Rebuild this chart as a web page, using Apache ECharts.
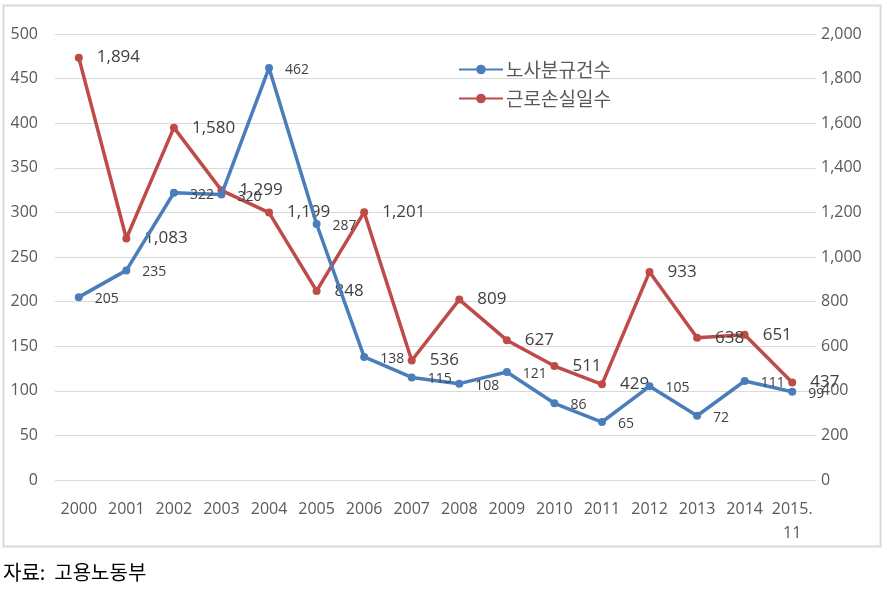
<!DOCTYPE html>
<html><head><meta charset="utf-8">
<script src="https://cdn.jsdelivr.net/npm/echarts@6/dist/echarts.min.js"></script>
<style>html,body{margin:0;padding:0;background:#fff}#c{width:887px;height:592px}</style>
</head><body><div id="c"></div>
<script>
const categories = ['2000','2001','2002','2003','2004','2005','2006','2007','2008','2009','2010','2011','2012','2013','2014','2015.\n11'];
const disputes = [205,235,322,320,462,287,138,115,108,121,86,65,105,72,111,99];
const lostDays = [1894,1083,1580,1299,1199,848,1201,536,809,627,511,429,933,638,651,437];
const seriesNames = ['노사분규건수','근로손실일수'];
const leftTicks = {min:0,max:500,interval:50};
const rightTicks = {min:0,max:2000,interval:200};

const FONT = "'Open Sans','Noto Sans CJK KR',sans-serif";
const chart = echarts.init(document.getElementById('c'));
chart.setOption({
  animation:false,
  textStyle:{fontFamily:FONT},
  graphic:[
    {type:'rect',shape:{x:3.5,y:5.5,width:877,height:541},style:{fill:'none',stroke:'#d9d9d9',lineWidth:2},silent:true},
    {type:'text',left:3,top:562,style:{text:'자료:  고용노동부',font:"20px 'Noto Sans CJK KR'",fill:'#000'}}
  ],
  grid:{left:55,right:71,top:34,bottom:112},
  legend:{
    orient:'vertical',left:453,top:55,itemWidth:44,itemHeight:12,itemGap:10,
    textStyle:{fontSize:19,color:'#595959',fontFamily:"'Noto Sans CJK KR'",padding:[0,0,0,-2]},
    data:seriesNames
  },
  xAxis:{
    type:'category',data:categories,boundaryGap:true,
    axisLine:{show:false},axisTick:{show:false},
    axisLabel:{fontSize:16,color:'#595959',margin:17,interval:0,lineHeight:24}
  },
  yAxis:[
    {type:'value',min:leftTicks.min,max:leftTicks.max,interval:leftTicks.interval,
     axisLine:{show:false},axisTick:{show:false},
     axisLabel:{fontSize:16,color:'#595959',margin:17},
     splitLine:{lineStyle:{color:'#d9d9d9',width:1}}},
    {type:'value',min:rightTicks.min,max:rightTicks.max,interval:rightTicks.interval,
     axisLine:{show:false},axisTick:{show:false},
     axisLabel:{fontSize:16,color:'#595959',margin:5,formatter:v=>v.toLocaleString('en-US')},
     splitLine:{show:false}}
  ],
  series:[
    {name:seriesNames[0],type:'line',yAxisIndex:0,data:disputes,
     symbol:'circle',symbolSize:8,
     lineStyle:{width:3.5,color:'#4a7ebb'},itemStyle:{color:'#4a7ebb'},
     label:{show:true,position:'right',distance:12,fontSize:14,color:'#404040',offset:[0,2]},
     z:3},
    {name:seriesNames[1],type:'line',yAxisIndex:1,data:lostDays,
     symbol:'circle',symbolSize:8,
     lineStyle:{width:3.5,color:'#be4b48'},itemStyle:{color:'#be4b48'},
     label:{show:true,position:'right',distance:14,fontSize:17,color:'#404040',
       formatter:p=>p.value.toLocaleString('en-US')},
     z:2}
  ]
});
</script></body></html>
